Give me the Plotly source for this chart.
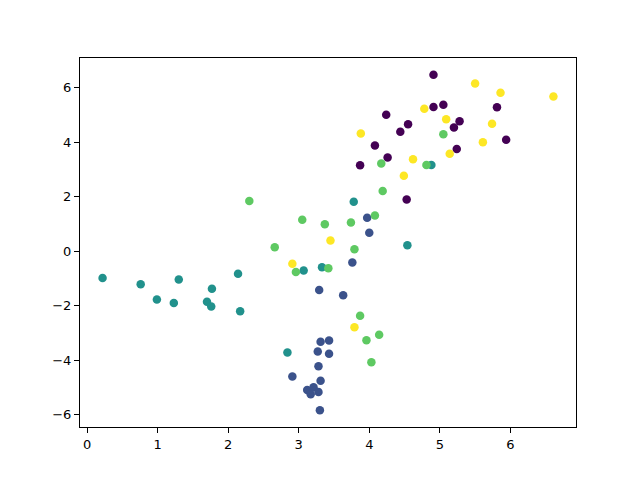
import plotly.graph_objects as go

# class 0 (purple)
x0 = [4.91, 5.81, 4.91, 5.05, 4.24, 5.28, 5.20, 4.55, 4.44, 5.94, 4.08, 5.24, 4.26, 3.87, 4.53]
y0 = [6.47, 5.28, 5.29, 5.37, 5.00, 4.77, 4.54, 4.66, 4.38, 4.09, 3.88, 3.75, 3.44, 3.15, 1.90]
# class 1 (blue)
x1 = [3.97, 4.00, 3.76, 3.29, 3.63, 3.31, 3.43, 3.27, 3.43, 3.28, 2.91, 3.31, 3.12, 3.21, 3.17, 3.28, 3.30]
y1 = [1.23, 0.68, -0.41, -1.42, -1.61, -3.32, -3.27, -3.68, -3.76, -4.22, -4.59, -4.75, -5.09, -4.99, -5.24, -5.16, -5.83]
# class 2 (teal)
x2 = [0.22, 0.76, 1.30, 0.99, 1.23, 1.77, 2.14, 1.70, 1.76, 2.17, 3.78, 4.54, 3.07, 3.33, 2.84, 4.88]
y2 = [-0.98, -1.21, -1.04, -1.77, -1.90, -1.38, -0.83, -1.85, -2.03, -2.20, 1.81, 0.22, -0.71, -0.59, -3.71, 3.16]
# class 3 (green)
x3 = [4.19, 2.30, 2.66, 3.05, 3.37, 3.74, 4.08, 3.79, 2.96, 3.42, 3.87, 3.96, 4.14, 4.03, 5.05, 4.17, 4.81]
y3 = [2.21, 1.84, 0.15, 1.15, 0.99, 1.05, 1.31, 0.07, -0.76, -0.62, -2.37, -3.26, -3.06, -4.07, 4.29, 3.22, 3.16]
# class 4 (yellow)
x4 = [5.50, 5.86, 6.61, 4.78, 5.09, 5.74, 3.88, 5.61, 5.14, 4.62, 4.49, 3.45, 2.91, 3.79]
y4 = [6.15, 5.81, 5.67, 5.22, 4.84, 4.67, 4.32, 4.00, 3.57, 3.37, 2.77, 0.39, -0.46, -2.79]

colors = ["#440154", "#3b528b", "#21918c", "#5ec962", "#fde725"]
xs = [x0, x1, x2, x3, x4]
ys = [y0, y1, y2, y3, y4]

fig = go.Figure()
for xv, yv, c in zip(xs, ys, colors):
    fig.add_trace(go.Scatter(x=xv, y=yv, mode="markers",
                             marker=dict(color=c, size=8.5, line=dict(width=0)),
                             showlegend=False))

axis_common = dict(showgrid=False, zeroline=False, showline=True, linecolor="black",
                   linewidth=1, mirror=True, ticks="outside", ticklen=5, tickwidth=1,
                   tickcolor="black", tickfont=dict(family="DejaVu Sans", size=13, color="black"))
fig.update_layout(
    width=640, height=480,
    paper_bgcolor="white", plot_bgcolor="white",
    margin=dict(l=72, r=72, t=50, b=61),
    xaxis=dict(range=[-0.10, 6.93], tickvals=[0, 1, 2, 3, 4, 5, 6], **axis_common),
    yaxis=dict(range=[-6.445, 7.085], tickvals=[-6, -4, -2, 0, 2, 4, 6], **axis_common),
)
fig.write_html("out.html")
